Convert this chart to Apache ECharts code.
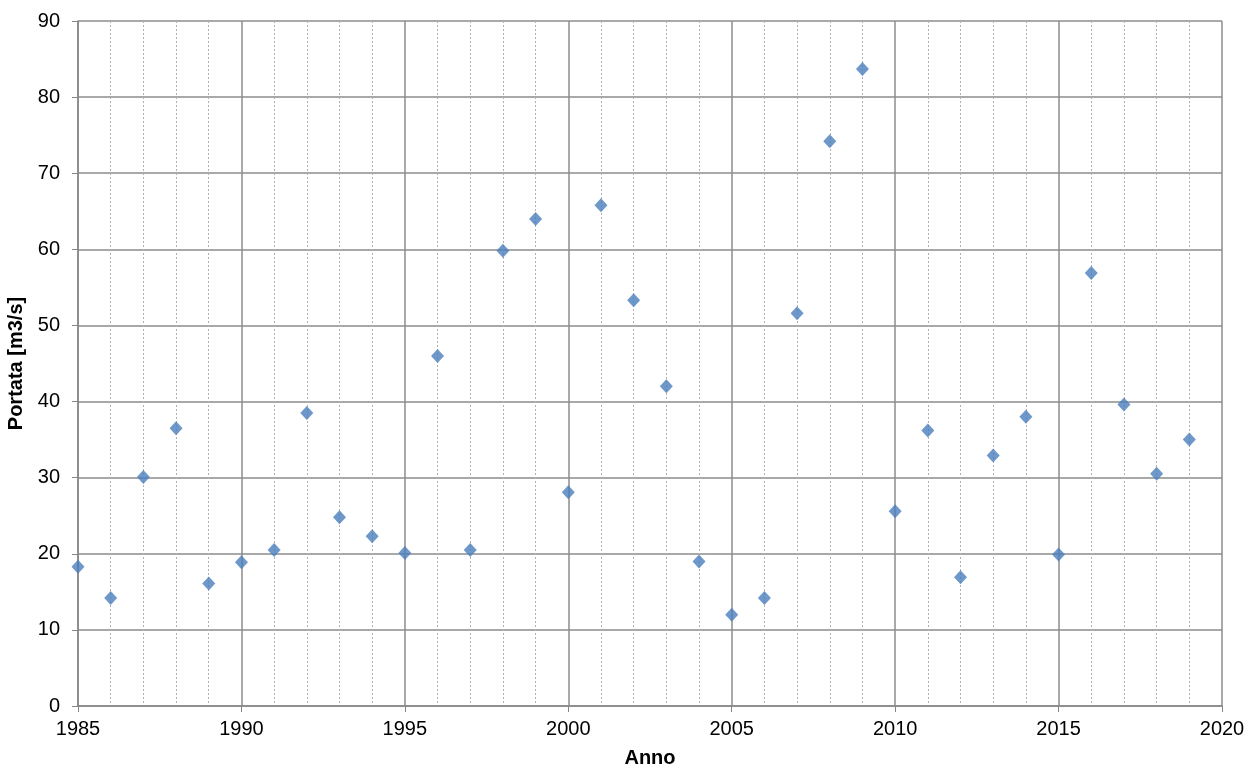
<!DOCTYPE html>
<html><head><meta charset="utf-8">
<script src="https://cdn.jsdelivr.net/npm/echarts@6/dist/echarts.min.js"></script>
<style>html,body{margin:0;padding:0;background:#fff}#c{width:1250px;height:767px}</style>
</head><body><div id="c"></div>
<script>
const years = [1985,1986,1987,1988,1989,1990,1991,1992,1993,1994,1995,1996,1997,1998,1999,2000,2001,2002,2003,2004,2005,2006,2007,2008,2009,2010,2011,2012,2013,2014,2015,2016,2017,2018,2019];
const portata = [18.3,14.2,30.1,36.5,16.1,18.9,20.5,38.5,24.8,22.3,20.1,46.0,20.5,59.8,64.0,28.1,65.8,53.3,42.0,19.0,12.0,14.2,51.6,74.2,83.7,25.6,36.2,16.9,32.9,38.0,19.9,56.9,39.6,30.5,35.0];
const xName = 'Anno';
const yName = 'Portata [m3/s]';

const chart = echarts.init(document.getElementById('c'));
const font = 'Liberation Sans, Arial, sans-serif';
chart.setOption({
  animation: false,
  grid: {left: 78, right: 28, top: 21, bottom: 61, outerBoundsMode: 'none', containLabel: false},
  xAxis: {
    type: 'value', min: 1985, max: 2020, interval: 5,
    name: xName, nameLocation: 'middle', nameGap: 42,
    nameTextStyle: {fontFamily: font, fontSize: 20, fontWeight: 'bold', color: '#000'},
    axisLine: {show: true, onZero: false, lineStyle: {color: '#868686', width: 1.5}},
    axisTick: {show: true, length: 6, lineStyle: {color: '#868686'}},
    axisLabel: {fontFamily: font, fontSize: 20, color: '#000', margin: 13, formatter: v => String(v)},
    splitLine: {show: true, lineStyle: {color: '#8c8c8c', width: 1.5}},
    minorTick: {show: false, splitNumber: 5},
    minorSplitLine: {show: true, lineStyle: {color: '#b0b0b0', width: 1, type: [2, 2]}}
  },
  yAxis: {
    type: 'value', min: 0, max: 90, interval: 10,
    name: yName, nameLocation: 'middle', nameGap: 48, nameRotate: 90,
    nameTextStyle: {fontFamily: font, fontSize: 20, fontWeight: 'bold', color: '#000'},
    axisLine: {show: true, lineStyle: {color: '#868686', width: 1.5}},
    axisTick: {show: true, length: 6, lineStyle: {color: '#868686'}},
    axisLabel: {fontFamily: font, fontSize: 20, color: '#000', margin: 18},
    splitLine: {show: true, lineStyle: {color: '#8c8c8c', width: 1.5}}
  },
  series: [{
    type: 'scatter',
    data: years.map((y, i) => [y, portata[i]]),
    symbol: 'diamond', symbolSize: [13, 14],
    itemStyle: {color: '#4A7EBB'}
  }]
});
</script></body></html>
